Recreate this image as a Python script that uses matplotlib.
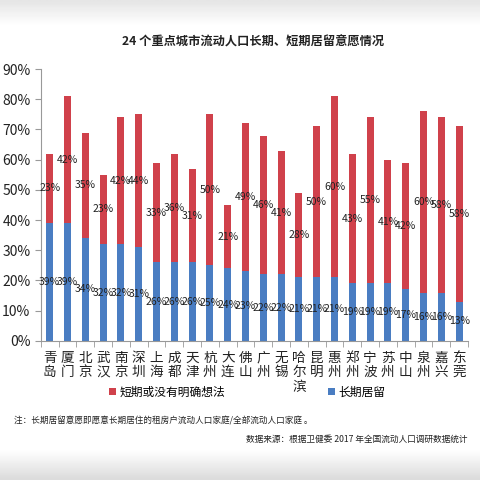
import numpy as np
import matplotlib
matplotlib.use("Agg")
import matplotlib.pyplot as plt

plt.rcParams['font.family'] = ['Noto Sans CJK SC', 'DejaVu Sans']

cities = ["青岛", "厦门", "北京", "武汉", "南京", "深圳", "上海", "成都", "天津", "杭州",
          "大连", "佛山", "广州", "无锡", "哈尔滨", "昆明", "惠州", "郑州", "宁波", "苏州",
          "中山", "泉州", "嘉兴", "东莞"]
long_stay = [39, 39, 34, 32, 32, 31, 26, 26, 26, 25, 24, 23, 22, 22, 21, 21, 21, 19, 19, 19,
             17, 16, 16, 13]
short_stay = [23, 42, 35, 23, 42, 44, 33, 36, 31, 50, 21, 49, 46, 41, 28, 50, 60, 43, 55, 41,
              42, 60, 58, 58]

red = "#D0414B"
blue = "#4A7DC2"
txt = "#222222"

fig = plt.figure(figsize=(4.8, 4.8), dpi=100)

# faint photo-like shading at top and bottom
bg = fig.add_axes([0, 0, 1, 1], zorder=-10)
yy = np.linspace(0, 1, 200)
shade = np.ones_like(yy)
shade = np.where(yy < 0.06, 0.86 + 0.14 * (yy / 0.06), shade)
shade = np.where(yy > 0.95, 1 - 0.10 * (yy - 0.95) / 0.05, shade)
bg.imshow(shade[:, None], aspect="auto", cmap="gray", vmin=0, vmax=1,
          extent=[0, 1, 0, 1], origin="lower")
bg.axis("off")

ax = fig.add_axes([0.085, 0.29, 0.89, 0.566])
x = np.arange(len(cities))
w = 0.4
b1 = ax.bar(x, long_stay, w, color=blue, label="长期居留")
b2 = ax.bar(x, short_stay, w, bottom=long_stay, color=red, label="短期或没有明确想法")

for i in range(len(cities)):
    ax.text(x[i], long_stay[i] / 2, f"{long_stay[i]}%", ha="center", va="center",
            fontsize=7.5, color=txt)
    ax.text(x[i], long_stay[i] + short_stay[i] / 2, f"{short_stay[i]}%", ha="center",
            va="center", fontsize=7.5, color=txt)

ax.set_xlim(-0.5, len(cities) - 0.5)
ax.set_ylim(0, 90)
ax.set_yticks(np.arange(0, 91, 10))
ax.set_yticklabels([f"{v}%" for v in range(0, 91, 10)], fontsize=10, color=txt)
ax.set_xticks(x)
ax.set_xticklabels(["\n".join(c) for c in cities], fontsize=9.8, color=txt,
                   va="top", linespacing=1.05)
ax.set_xticks(np.arange(-0.5, len(cities), 1), minor=True)
ax.tick_params(axis="x", which="major", length=0, pad=7)
ax.tick_params(axis="x", which="minor", length=4, color="#999999")
ax.tick_params(axis="y", length=4, color="#999999")
for s in ["top", "right"]:
    ax.spines[s].set_visible(False)
ax.spines["left"].set_color("#999999")
ax.spines["bottom"].set_color("#999999")

fig.text(0.527, 0.912, "24 个重点城市流动人口长期、短期居留意愿情况", ha="center",
         va="center", fontsize=8.8, fontweight="bold", color=txt)

fig.legend(handles=[b2, b1], loc="center", bbox_to_anchor=(0.515, 0.183), ncol=2,
           frameon=False, fontsize=8.5, handlelength=0.6, handleheight=0.6,
           handletextpad=0.3, columnspacing=8.7)

fig.text(0.03, 0.124, "注：长期居留意愿即愿意长期居住的租房户流动人口家庭/全部流动人口家庭 。",
         ha="left", va="center", fontsize=6.2, color=txt)
fig.text(0.975, 0.084, "数据来源：根据卫健委 2017 年全国流动人口调研数据统计",
         ha="right", va="center", fontsize=6.25, color=txt)

fig.savefig("out.png", dpi=100)
